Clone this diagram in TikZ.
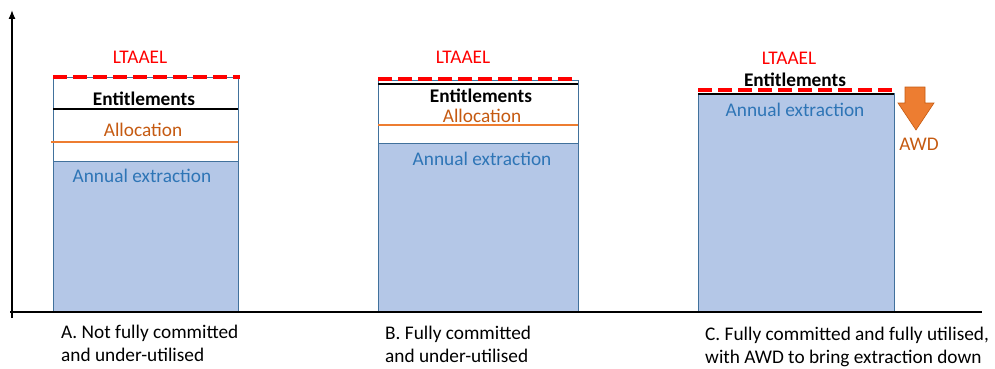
\documentclass[tikz,border=0pt]{standalone}
\usepackage{fontspec}
\setmainfont{Carlito}
\usetikzlibrary{arrows.meta,positioning}
\definecolor{extfill}{HTML}{B4C7E7}
\definecolor{barline}{HTML}{41719C}
\definecolor{exttext}{HTML}{2E75B6}
\definecolor{allocline}{HTML}{ED7D31}
\definecolor{alloctext}{HTML}{C55A11}
\tikzset{
  txt/.style      = {font=\fontsize{19.3}{22.5}\selectfont, inner sep=0pt},
  barbox/.style   = {draw=barline, line width=0.8pt},
  extract/.style  = {barbox, fill=extfill},
  ltaael/.style   = {draw=red, line width=4.2pt, dash pattern=on 14pt off 6pt},
  entline/.style  = {draw=black, line width=1.6pt},
  allocl/.style   = {draw=allocline, line width=1.6pt},
  redtxt/.style   = {txt, text=red},
  enttxt/.style   = {txt, font=\fontsize{19.3}{22.5}\selectfont\bfseries},
  alloctxt/.style = {txt, text=alloctext},
  exttxt/.style   = {txt, text=exttext},
  caption/.style  = {txt, align=left, anchor=north west}
}
\begin{document}
\begin{tikzpicture}[x=1pt, y=-1pt, >={Latex[length=9pt, width=7pt]}]
  \useasboundingbox (0,0) rectangle (995,369);

  % axes
  \coordinate (origin) at (12,312);
  \coordinate (ytop) at (12,10);
  \coordinate (xend) at (982,312);
  \draw[line width=1.3pt, ->] (12,318) -- (ytop);

  % column A: not fully committed
  \draw[barbox] (53,77) rectangle (238,312);
  \draw[extract] (53,161) rectangle (238,312);
  \draw[entline] (53,109) -- (238,109);
  \draw[allocl] (51,142) -- (238,142);
  \draw[ltaael] (53,77) -- (240,77);
  \node[redtxt] (ltA) at (140,57) {LTAAEL};
  \node[enttxt] (entA) at (144,99) {Entitlements};
  \node[alloctxt] (allocA) at (143,130) {Allocation};
  \node[exttxt] (extA) at (142,176) {Annual extraction};
  \node[caption] (capA) at (61,325) {A. Not fully committed\\and under-utilised};

  % column B: fully committed
  \draw[barbox] (378,80) rectangle (578,312);
  \draw[extract] (378,143) rectangle (578,312);
  \draw[entline] (378,84) -- (578,84);
  \draw[allocl] (378,125) -- (578,125);
  \draw[ltaael] (378,79) -- (578,79);
  \node[redtxt] (ltB) at (463,57) {LTAAEL};
  \node[enttxt] (entB) at (481,96) {Entitlements};
  \node[alloctxt] (allocB) at (482,115.5) {Allocation};
  \node[exttxt] (extB) at (482,159) {Annual extraction};
  \node[caption] (capB) at (385,326) {B. Fully committed\\and under-utilised};

  % column C: fully utilised, AWD
  \draw[extract] (698,93) rectangle (894,312);
  \draw[entline] (698,94) -- (894,94);
  \draw[ltaael] (698,90) -- (898,90);
  \node[redtxt] (ltC) at (789,58) {LTAAEL};
  \node[enttxt] (entC) at (795,80) {Entitlements};
  \node[exttxt] (extC) at (795,110) {Annual extraction};
  \draw[fill=allocline, draw=alloctext, line width=0.6pt]
    (905,87) -- (925,87) -- (925,103) -- (934,103) -- (916,130)
    -- (898,103) -- (905,103) -- cycle;
  \node[alloctxt] (awd) at (919,144) {AWD};
  \node[caption] (capC) at (705,327) {C. Fully committed and fully utilised,\\with AWD to bring extraction down};

  % baseline on top of the bars
  \draw[line width=1.3pt] (10,312) -- (xend);
\end{tikzpicture}
\end{document}
